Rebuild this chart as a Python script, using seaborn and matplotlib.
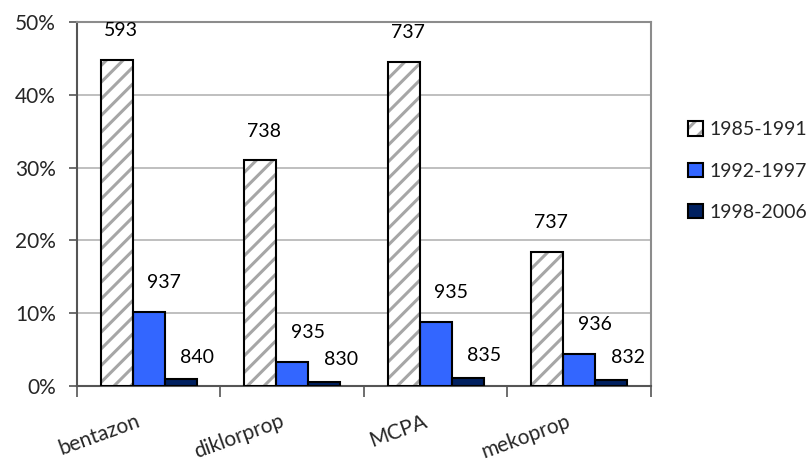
import matplotlib
matplotlib.use("Agg")
import matplotlib.pyplot as plt
from matplotlib.patches import Patch, Rectangle
from matplotlib.ticker import PercentFormatter, FixedLocator
from matplotlib.transforms import ScaledTranslation
import seaborn as sns
import pandas as pd

# Share of samples with detections (%) and number of samples analysed
substances = ["bentazon", "diklorprop", "MCPA", "mekoprop"]
periods = ["1985-1991", "1992-1997", "1998-2006"]
share_1985_1991 = [44.8, 31.0, 44.5, 18.4]
share_1992_1997 = [10.2, 3.3, 8.8, 4.4]
share_1998_2006 = [0.9, 0.6, 1.1, 0.8]
n_1985_1991 = [593, 738, 737, 737]
n_1992_1997 = [937, 935, 935, 936]
n_1998_2006 = [840, 830, 835, 832]

shares = [share_1985_1991, share_1992_1997, share_1998_2006]
counts = [n_1985_1991, n_1992_1997, n_1998_2006]

rows = []
for p, sh, ns in zip(periods, shares, counts):
    for s, v, n in zip(substances, sh, ns):
        rows.append({"substance": s, "period": p, "share": v, "n": n})
df = pd.DataFrame(rows)

sns.set_theme(style="white")
plt.rcParams["font.family"] = ["Lato", "DejaVu Sans"]
plt.rcParams["hatch.linewidth"] = 2.2

fig = plt.figure(figsize=(8.12, 4.63), dpi=100)
ax = fig.add_axes([0.0948, 0.1663, 0.7069, 0.7862])

colors = {"1985-1991": "#ffffff", "1992-1997": "#3366ff", "1998-2006": "#002060"}
sns.barplot(data=df, x="substance", y="share", hue="period", order=substances,
            hue_order=periods, palette=colors, width=0.67, saturation=1,
            edgecolor="black", linewidth=1.5, legend=False, ax=ax, zorder=3)

# hatched first series: grey stripes, then a black outline on top
hatch_grey = "#a6a6a6"
for bar in ax.containers[0]:
    bar.set_hatch("//")
    bar.set_edgecolor(hatch_grey)
    bar.set_linewidth(0)
    ax.add_patch(Rectangle(bar.get_xy(), bar.get_width(), bar.get_height(),
                           fill=False, edgecolor="black", linewidth=1.5, zorder=4))

# sample counts above bars
x_shift = [3, 11, 12]   # points
y_shift = [21, 21, 16]  # points
for i, cont in enumerate(ax.containers):
    for bar, n in zip(cont, counts[i]):
        ax.annotate(str(n), (bar.get_x() + bar.get_width() / 2, bar.get_height()),
                    xytext=(x_shift[i], y_shift[i]), textcoords="offset points",
                    ha="center", va="center", fontsize=14, color="black")

ax.set_ylim(0, 50)
ax.set_xlim(-0.5, len(substances) - 0.5)
ax.yaxis.set_major_locator(FixedLocator([0, 10, 20, 30, 40, 50]))
ax.yaxis.set_major_formatter(PercentFormatter(100, decimals=0))
ax.grid(axis="y", color="#b4b4b4", linewidth=1.2, zorder=0)
ax.set_axisbelow(True)
ax.set_xlabel("")
ax.set_ylabel("")

ax.tick_params(axis="y", which="major", length=6, width=1.2, color="#555555",
               direction="out", labelsize=15, pad=9, left=True)
ax.set_xticks(range(len(substances)))
ax.set_xticklabels(substances, rotation=20, ha="right", rotation_mode="anchor")
ax.tick_params(axis="x", which="major", length=0, labelsize=15, pad=18)
shift = ScaledTranslation(-9 / 72, 0, fig.dpi_scale_trans)
for lbl in ax.get_xticklabels():
    lbl.set_transform(lbl.get_transform() + shift)
ax.set_xticks([i - 0.5 for i in range(len(substances) + 1)], minor=True)
ax.tick_params(axis="x", which="minor", length=8, width=1.2, color="#555555",
               direction="out", bottom=True)

for side in ["left", "bottom"]:
    ax.spines[side].set_color("#555555")
    ax.spines[side].set_linewidth(1.5)
for side in ["top", "right"]:
    ax.spines[side].set_color("#8c8c8c")
    ax.spines[side].set_linewidth(1.5)

# legend
h0 = (Patch(facecolor="white", edgecolor=hatch_grey, hatch="//", linewidth=0),
      Patch(facecolor="none", edgecolor="black", linewidth=1.5))
h1 = Patch(facecolor=colors["1992-1997"], edgecolor="black", linewidth=1.5)
h2 = Patch(facecolor=colors["1998-2006"], edgecolor="black", linewidth=1.5)
fig.legend([h0, h1, h2], periods, loc="upper left", bbox_to_anchor=(0.838, 0.755),
           frameon=False, fontsize=14, handlelength=0.75, handleheight=0.75,
           handletextpad=0.35, labelspacing=1.25, borderaxespad=0)

fig.savefig("out.png", dpi=100)
